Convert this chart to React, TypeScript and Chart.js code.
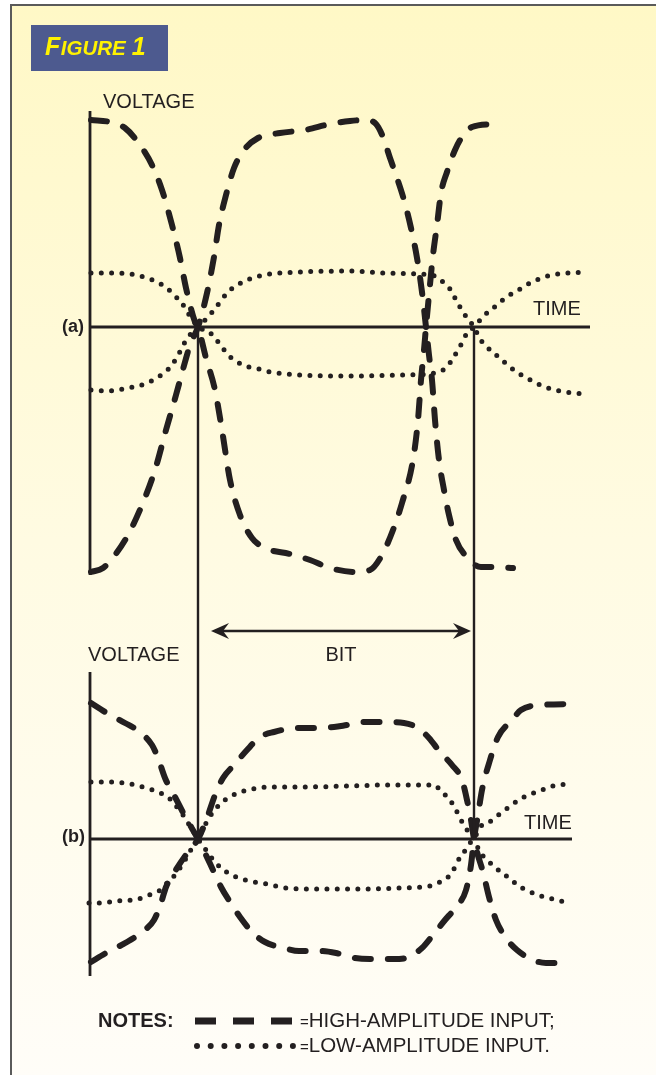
import React, { useEffect, useRef } from 'react';
import { Chart, registerables } from 'chart.js';

Chart.register(...registerables);

// Units: time in ps (one bit = 276 ps), voltage in mV relative to each panel's zero line.
const BIT_PS = 276;
const TIME_RANGE = [-198, 458];
const PANEL_A_RANGE = [-1496, 654];
const PANEL_B_SHIFT = 1024; // distance between zero lines of (a) and (b), in mV

// Panel (a): high-amplitude input (dashed)
const aHighFall: [number, number][] = [
  [-107, 414], [-88, 410], [-73, 398], [-58, 364], [-46, 324], [-36, 274], [-26, 204], [-18, 138],
  [-12, 78], [-3, 10], [0, 0], [8, -62], [17, -126], [24, -206], [32, -306], [42, -376], [54, -422],
  [67, -442], [92, -454], [112, -466], [132, -482], [157, -490], [172, -486], [184, -456], [195, -406],
  [204, -352], [215, -266], [220, -186], [223, -106], [226, -46], [228, 0], [231, 64], [235, 144],
  [239, 204], [243, 268], [249, 310], [257, 354], [264, 380], [274, 400], [296, 406],
];
const aHighRise: [number, number][] = [
  [-107, -490], [-95, -482], [-83, -456], [-70, -416], [-56, -356], [-43, -286], [-32, -206],
  [-22, -136], [-13, -70], [-8, -36], [0, 0], [9, 68], [16, 140], [21, 204], [28, 264], [36, 318],
  [46, 354], [60, 378], [82, 388], [107, 394], [132, 406], [152, 412], [167, 414], [178, 406],
  [185, 380], [192, 338], [199, 298], [206, 254], [213, 198], [219, 138], [224, 70], [228, 0],
  [231, -56], [234, -106], [237, -186], [241, -266], [246, -326], [251, -376], [258, -426],
  [267, -456], [283, -480], [298, -480], [315, -482],
];
// Panel (a): low-amplitude input (dotted)
const aLowFall: [number, number][] = [
  [-107, 108], [-87, 108], [-67, 106], [-58, 102], [-48, 96], [-39, 88], [-31, 78], [-23, 62],
  [-16, 48], [-11, 30], [-6, 18], [0, 0], [10, -8], [17, -22], [24, -40], [30, -56], [38, -68],
  [47, -78], [57, -82], [72, -90], [102, -96], [152, -98], [202, -96], [230, -94], [240, -90],
  [249, -80], [255, -62], [260, -46], [265, -28], [269, -12], [276, 0], [284, 18], [290, 30],
  [299, 44], [307, 58], [315, 68], [324, 78], [332, 88], [341, 96], [350, 102], [360, 106],
  [370, 108], [390, 110],
];
const aLowRise: [number, number][] = [
  [-107, -126], [-91, -128], [-81, -126], [-70, -122], [-60, -118], [-51, -112], [-41, -102],
  [-33, -90], [-26, -76], [-21, -60], [-16, -42], [-12, -26], [0, 0], [9, 18], [16, 34], [22, 50],
  [29, 68], [36, 80], [45, 90], [54, 98], [72, 106], [102, 110], [152, 112], [187, 108], [222, 106],
  [237, 102], [245, 90], [252, 76], [257, 58], [262, 40], [267, 24], [276, 0], [282, -24],
  [289, -40], [297, -54], [305, -68], [312, -80], [320, -92], [329, -102], [338, -112], [347, -120],
  [357, -126], [367, -130], [377, -132], [387, -134],
];

// Panel (b): high-amplitude input (dashed)
const bHighFall: [number, number][] = [
  [-107, 272], [-93, 254], [-73, 232], [-61, 218], [-46, 188], [-40, 162], [-33, 122], [-23, 84],
  [-12, 42], [0, 0], [7, -28], [15, -62], [23, -96], [34, -132], [42, -156], [55, -188], [67, -206],
  [86, -218], [101, -224], [122, -224], [138, -228], [157, -238], [172, -240], [195, -240],
  [208, -238], [224, -218], [235, -192], [247, -162], [258, -136], [268, -102], [273, -52], [276, 0],
  [280, 48], [284, 98], [292, 158], [300, 204], [314, 238], [323, 258], [344, 268], [373, 270],
];
const bHighRise: [number, number][] = [
  [-107, -246], [-92, -228], [-71, -206], [-56, -186], [-44, -162], [-37, -128], [-32, -96],
  [-21, -58], [-10, -26], [0, 0], [9, 42], [17, 88], [25, 122], [37, 150], [49, 178], [62, 204],
  [76, 214], [99, 222], [113, 222], [136, 224], [149, 228], [168, 234], [185, 234], [206, 232],
  [220, 222], [231, 202], [242, 174], [254, 148], [264, 118], [269, 78], [273, 38], [276, 0],
  [279, -26], [285, -66], [291, -116], [298, -162], [308, -198], [319, -222], [335, -242],
  [348, -248], [371, -248],
];
// Panel (b): low-amplitude input (dotted)
const bLowFall: [number, number][] = [
  [-107, 114], [-88, 114], [-68, 110], [-48, 100], [-38, 92], [-30, 84], [-22, 66], [-15, 48],
  [-8, 26], [0, 0], [8, -22], [17, -46], [30, -68], [47, -82], [69, -90], [88, -98], [122, -100],
  [162, -100], [202, -98], [232, -94], [240, -88], [249, -78], [255, -64], [259, -46], [265, -30],
  [270, -12], [276, 0], [282, 24], [290, 32], [299, 46], [307, 58], [315, 70], [324, 82], [333, 90],
  [342, 96], [351, 104], [361, 108], [370, 110],
];
const bLowRise: [number, number][] = [
  [-109, -128], [-100, -128], [-80, -124], [-60, -120], [-49, -112], [-39, -104], [-33, -92],
  [-23, -72], [-13, -42], [-6, -18], [0, 0], [7, 28], [15, 54], [27, 78], [40, 92], [54, 100],
  [72, 104], [102, 104], [152, 106], [187, 108], [237, 108], [241, 100], [245, 92], [252, 78],
  [257, 62], [262, 42], [267, 24], [276, 0], [282, -26], [289, -42], [297, -56], [305, -70],
  [313, -80], [320, -94], [329, -102], [337, -110], [347, -116], [371, -128],
];

// Axes of each panel: [time start, time end], [voltage top, voltage bottom]
const AXIS_T = -108;
const A_TIME_AXIS = [-108, 392];
const A_VOLT_AXIS = [432, -496];
const B_TIME_AXIS = [-108, 374];
const B_VOLT_AXIS = [334, -274];
const BIT_EDGES = [0, BIT_PS];
const BIT_ARROW_T = [13, 273];
const BIT_ARROW_V = -608;

// Legend samples (panel (a) units)
const LEGEND_DASH_T = [-3, 94];
const LEGEND_DASH_V = -1388;
const LEGEND_DOT_T = [-1, 95];
const LEGEND_DOT_V = -1438;

const INK = '#231f20';
const FONT = '"Liberation Sans", Arial, Helvetica, sans-serif';

function pts(p: [number, number][]) {
  return p.map(([x, y]) => ({ x, y }));
}

function curve(p: [number, number][], axis: string, dashed: boolean) {
  return {
    data: pts(p),
    yAxisID: axis,
    showLine: true,
    pointRadius: 0,
    borderColor: INK,
    borderWidth: dashed ? 6 : 5,
    borderDash: dashed ? [16, 17] : [0, 10.3],
    borderCapStyle: 'round',
    cubicInterpolationMode: 'monotone',
    fill: false,
    clip: false,
  };
}

function rule(p: [number, number][], axis: string, width = 2.6) {
  return {
    data: pts(p),
    yAxisID: axis,
    showLine: true,
    pointRadius: 0,
    borderColor: INK,
    borderWidth: width,
    tension: 0,
    borderCapStyle: 'butt',
    fill: false,
    clip: false,
  };
}

const decor = {
  id: 'decor',
  beforeDraw(chart: any) {
    const { ctx, width, height } = chart;
    ctx.save();
    ctx.fillStyle = '#ffffff';
    ctx.fillRect(0, 0, width, height);
    const g = ctx.createLinearGradient(0, 6, 0, height);
    g.addColorStop(0, '#fff8c6');
    g.addColorStop(0.5, '#fffbe2');
    g.addColorStop(1, '#fffdf8');
    ctx.fillStyle = g;
    ctx.fillRect(12, 6, width - 12, height - 6);
    ctx.fillStyle = '#5a5a5a';
    ctx.fillRect(10, 4, width - 10, 2);
    ctx.fillRect(10, 4, 2, height - 4);
    // title box
    ctx.fillStyle = '#4d5a8f';
    ctx.fillRect(31, 25, 137, 46);
    ctx.fillStyle = '#fff200';
    ctx.textBaseline = 'alphabetic';
    ctx.textAlign = 'left';
    let x = 45;
    ctx.font = `italic bold 25px ${FONT}`;
    ctx.fillText('F', x, 55);
    x += ctx.measureText('F').width + 0.5;
    ctx.font = `italic bold 20.5px ${FONT}`;
    ctx.fillText('IGURE', x, 55);
    x += ctx.measureText('IGURE').width + 6;
    ctx.font = `italic bold 25px ${FONT}`;
    ctx.fillText('1', x, 55);
    ctx.restore();
  },
  afterDraw(chart: any) {
    const { ctx } = chart;
    const xs = chart.scales.x;
    const ya = chart.scales.ya;
    const yb = chart.scales.yb;
    const X = (t: number) => xs.getPixelForValue(t);
    const YA = (v: number) => ya.getPixelForValue(v);
    const YB = (v: number) => yb.getPixelForValue(v);
    ctx.save();
    ctx.fillStyle = INK;
    const reg = `20px ${FONT}`;
    const text = (s: string, x: number, y: number, font: string, align = 'left', base = 'alphabetic') => {
      ctx.font = font;
      ctx.textAlign = align;
      ctx.textBaseline = base;
      ctx.fillText(s, x, y);
    };
    text('VOLTAGE', X(-95), YA(438), reg);
    text('TIME', X(335), YA(24), reg);
    text('(a)', X(-136), YA(0), `bold 18px ${FONT}`, 'left', 'middle');
    text('VOLTAGE', X(-110), YB(356), reg);
    text('BIT', X(143), YB(356), reg, 'center');
    text('TIME', X(326), YB(20), reg);
    text('(b)', X(-136), YB(4), `bold 18px ${FONT}`, 'left', 'middle');
    text('NOTES:', X(-100), YA(-1400), `bold 20px ${FONT}`);
    // legend texts
    const lx = X(102);
    text('=', lx, YA(-1400), `15px ${FONT}`);
    ctx.font = `15px ${FONT}`;
    const ew = ctx.measureText('=').width;
    text('HIGH-AMPLITUDE INPUT;', lx + ew, YA(-1400), `20.5px ${FONT}`);
    text('=', lx, YA(-1450), `15px ${FONT}`);
    text('LOW-AMPLITUDE INPUT.', lx + ew, YA(-1450), `20.5px ${FONT}`);
    // arrow heads of BIT
    const ay = YA(BIT_ARROW_V);
    const head = (tip: number, dir: number) => {
      const L = 18, W = 8, N = 6;
      ctx.beginPath();
      ctx.moveTo(tip, ay);
      ctx.lineTo(tip + dir * L, ay - W);
      ctx.lineTo(tip + dir * (L - N), ay);
      ctx.lineTo(tip + dir * L, ay + W);
      ctx.closePath();
      ctx.fill();
    };
    head(X(BIT_ARROW_T[0]), 1);
    head(X(BIT_ARROW_T[1]), -1);
    ctx.restore();
  },
};

export default function App() {
  const ref = useRef<HTMLCanvasElement | null>(null);
  useEffect(() => {
    if (!ref.current) return;
    const datasets: any[] = [
      rule([[AXIS_T, A_VOLT_AXIS[0]], [AXIS_T, A_VOLT_AXIS[1]]], 'ya', 2.8),
      rule([[A_TIME_AXIS[0], 0], [A_TIME_AXIS[1], 0]], 'ya', 2.8),
      rule([[AXIS_T, B_VOLT_AXIS[0]], [AXIS_T, B_VOLT_AXIS[1]]], 'yb', 2.8),
      rule([[B_TIME_AXIS[0], 0], [B_TIME_AXIS[1], 0]], 'yb', 2.8),
      rule([[BIT_EDGES[0], 0], [BIT_EDGES[0], -PANEL_B_SHIFT]], 'ya', 2.4),
      rule([[BIT_EDGES[1], 0], [BIT_EDGES[1], -PANEL_B_SHIFT]], 'ya', 2.4),
      rule([[BIT_ARROW_T[0] + 4, BIT_ARROW_V], [BIT_ARROW_T[1] - 4, BIT_ARROW_V]], 'ya', 2.4),
      curve(aLowFall, 'ya', false),
      curve(aLowRise, 'ya', false),
      curve(aHighFall, 'ya', true),
      curve(aHighRise, 'ya', true),
      curve(bLowFall, 'yb', false),
      curve(bLowRise, 'yb', false),
      curve(bHighFall, 'yb', true),
      curve(bHighRise, 'yb', true),
      {
        ...rule([[LEGEND_DASH_T[0], LEGEND_DASH_V], [LEGEND_DASH_T[1], LEGEND_DASH_V]], 'ya', 7),
        borderDash: [21, 17],
      },
      {
        ...rule([[LEGEND_DOT_T[0], LEGEND_DOT_V], [LEGEND_DOT_T[1], LEGEND_DOT_V]], 'ya', 6),
        borderDash: [0, 13.7],
        borderCapStyle: 'round',
      },
    ];
    const chart = new Chart(ref.current, {
      type: 'scatter',
      data: { datasets },
      options: {
        responsive: false,
        devicePixelRatio: 1,
        animation: false,
        events: [],
        layout: { padding: 0 },
        plugins: { legend: { display: false }, tooltip: { enabled: false }, title: { display: false } },
        scales: {
          x: { type: 'linear', display: false, min: TIME_RANGE[0], max: TIME_RANGE[1] },
          ya: { type: 'linear', display: false, position: 'left', min: PANEL_A_RANGE[0], max: PANEL_A_RANGE[1] },
          yb: {
            type: 'linear',
            display: false,
            position: 'left',
            min: PANEL_A_RANGE[0] + PANEL_B_SHIFT,
            max: PANEL_A_RANGE[1] + PANEL_B_SHIFT,
          },
        },
      } as any,
      plugins: [decor],
    });
    return () => chart.destroy();
  }, []);
  return (
    <div style={{ position: 'absolute', left: 0, top: 0, width: 656, height: 1075 }}>
      <canvas ref={ref} width={656} height={1075} style={{ display: 'block', width: 656, height: 1075 }} />
    </div>
  );
}
